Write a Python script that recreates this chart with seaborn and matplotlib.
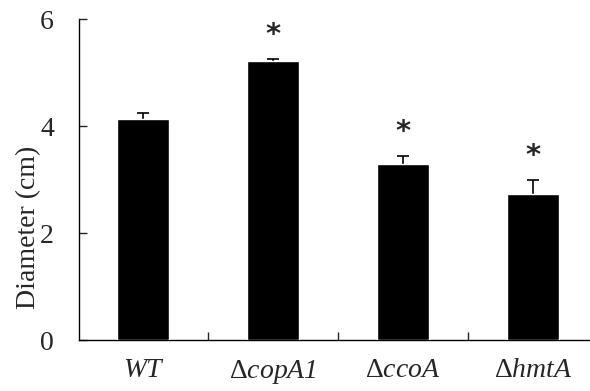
import seaborn as sns
import matplotlib.pyplot as plt
import pandas as pd
import numpy as np
from matplotlib.ticker import FixedLocator

# 数据
strains = ['WT', 'copA1', 'ccoA', 'hmtA']
tick_labels = ['WT', r'$\Delta$copA1', r'$\Delta$ccoA', r'$\Delta$hmtA']
diameter = [4.13, 5.21, 3.29, 2.74]
sem = [0.12, 0.04, 0.16, 0.26]
significant = [False, True, True, True]


def plot_diameter():
    df = pd.DataFrame({'strain': strains, 'diameter': diameter})

    sns.set_style('white')
    plt.rcParams['font.family'] = ['Liberation Serif', 'DejaVu Serif']
    plt.rcParams['mathtext.fontset'] = 'custom'
    plt.rcParams['mathtext.rm'] = 'Liberation Serif'
    plt.rcParams['mathtext.it'] = 'Liberation Serif:italic'

    fig = plt.figure(figsize=(5.9, 3.91), dpi=100)
    ax = fig.add_axes([0.134, 0.130, 0.866, 0.821])

    sns.barplot(data=df, x='strain', y='diameter', color='black', saturation=1,
                width=0.4, errorbar=None, ax=ax, zorder=3)

    # 误差线：下半部分藏在柱子后面
    x = np.arange(len(strains))
    ax.errorbar(x, diameter, yerr=sem, fmt='none',
                ecolor='black', elinewidth=1.2, capsize=4.5, capthick=1.2, zorder=2)

    # 显著性标记
    for i, (v, e, s) in enumerate(zip(diameter, sem, significant)):
        if s:
            ax.text(i, v + e + 0.45, '*', ha='center', va='center',
                    fontsize=21, fontweight='bold', family='DejaVu Sans')

    ax.set_ylim(0, 6)
    ax.set_xlim(-0.49, 3.44)
    ax.set_yticks([0, 2, 4, 6])
    ax.set_xticks(x)
    ax.set_xticklabels(tick_labels, fontstyle='italic')
    ax.xaxis.set_minor_locator(FixedLocator([0.5, 1.5, 2.5]))

    ax.tick_params(axis='y', which='major', direction='in', length=5.5, width=1,
                   labelsize=20, pad=18, left=True)
    ax.tick_params(axis='x', which='major', length=0, labelsize=20, pad=13)
    ax.tick_params(axis='x', which='minor', direction='in', length=5.5, width=1, bottom=True)

    for side in ['top', 'right']:
        ax.spines[side].set_visible(False)
    for side in ['left', 'bottom']:
        ax.spines[side].set_color('black')
        ax.spines[side].set_linewidth(1)

    ax.set_xlabel('')
    ax.set_ylabel('Diameter (cm)', fontsize=20)
    ax.yaxis.set_label_coords(-0.074, 0.35)

    fig.savefig('out.png', dpi=100)


if __name__ == '__main__':
    plot_diameter()
